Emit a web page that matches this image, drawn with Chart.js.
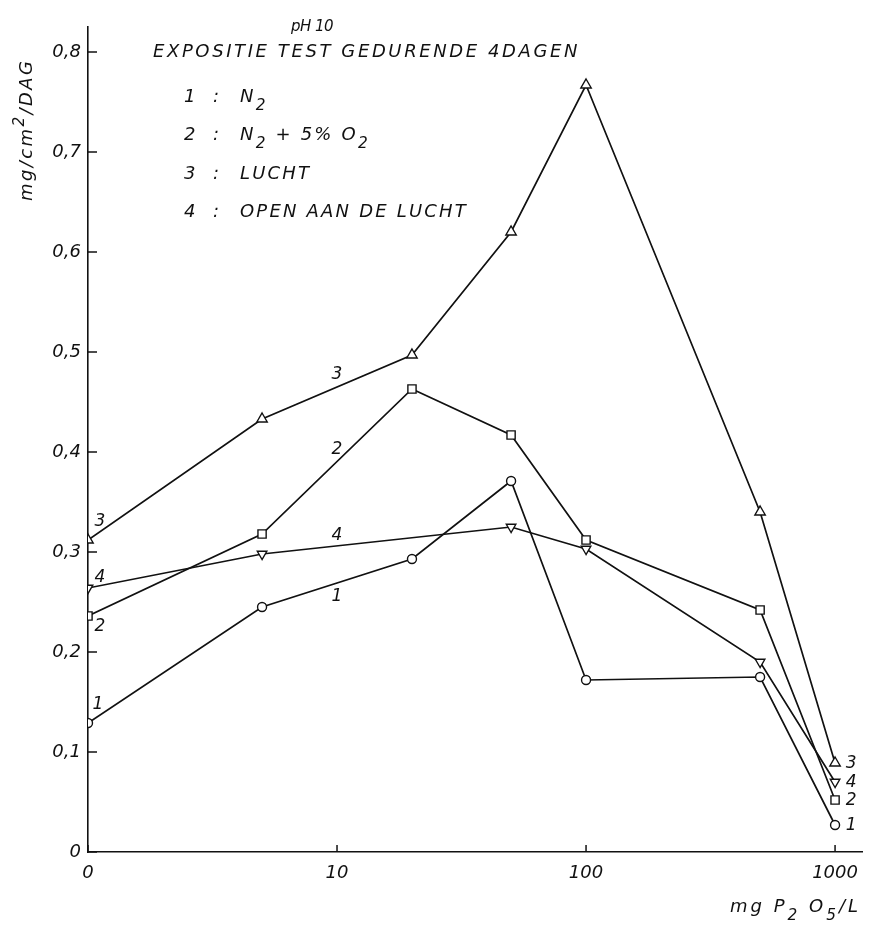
<!DOCTYPE html>
<html>
<head>
<meta charset="utf-8">
<script src="https://cdn.jsdelivr.net/npm/chart.js@4.4.1/dist/chart.umd.min.js"></script>
<style>
	html, body { margin: 0; padding: 0; background: #fff; }
</style>
</head>
<body>
<canvas id="myChart" width="870" height="927"></canvas>
<script>
// mg P2O5 / L  (0 is drawn where 1 would sit on the log axis)
const doses = [0, 5, 20, 50, 100, 500, 1000]
// mg/cm2/dag
const n2 = [0.129, 0.245, 0.293, 0.371, 0.172, 0.175, 0.027]
const n2o2 = [0.236, 0.318, 0.463, 0.417, 0.312, 0.242, 0.052]
const lucht = [0.312, 0.433, 0.497, 0.620, 0.767, 0.340, 0.089]
const openLucht = [0.264, 0.298, null, 0.325, 0.303, 0.190, 0.070]

const xTicks = [0, 10, 100, 1000]
const yTicks = [0, 0.1, 0.2, 0.3, 0.4, 0.5, 0.6, 0.7, 0.8]
const yLabels = ['0', '0,1', '0,2', '0,3', '0,4', '0,5', '0,6', '0,7', '0,8']

const ink = '#111'
const FONT = '"DejaVu Sans"'

function toPoints(values) {
	return doses.map((d, i) => ({ x: d === 0 ? 1 : d, y: values[i] }))
		.filter(p => p.y !== null)
}

function series(label, values, style, radius, rotation) {
	return {
		label: label,
		data: toPoints(values),
		borderColor: ink,
		borderWidth: 1.7,
		pointStyle: style,
		pointRadius: radius,
		pointRotation: rotation || 0,
		pointBackgroundColor: '#fff',
		pointBorderColor: ink,
		pointBorderWidth: 1.4,
		tension: 0,
		fill: false
	}
}

// text with sub/superscripts: parts = [[text, shift]], shift 1 = sub, -1 = sup
function drawRich(ctx, parts, x, y, size, spacing) {
	let cx = x
	ctx.letterSpacing = (spacing || 0) + 'px'
	parts.forEach(([t, s]) => {
		const fs = s ? size * 0.85 : size
		ctx.font = `italic ${fs}px ${FONT}`
		const dy = s === 1 ? size * 0.42 : (s === -1 ? -size * 0.42 : 0)
		ctx.fillText(t, cx, y + dy)
		cx += ctx.measureText(t).width
	})
	ctx.letterSpacing = '0px'
}

const decorations = {
	id: 'decorations',
	afterDraw(chart) {
		const ctx = chart.ctx
		const xs = chart.scales.x
		const ys = chart.scales.y
		ctx.save()
		ctx.fillStyle = ink
		ctx.strokeStyle = ink
		ctx.lineWidth = 1.5

		// inward tick marks
		yTicks.forEach(v => {
			const py = ys.getPixelForValue(v)
			ctx.beginPath()
			ctx.moveTo(xs.left, py)
			ctx.lineTo(xs.left + 9, py)
			ctx.stroke()
		})
		xTicks.forEach(v => {
			const px = xs.getPixelForValue(v === 0 ? 1 : v)
			ctx.beginPath()
			ctx.moveTo(px, ys.bottom)
			ctx.lineTo(px, ys.bottom - 7)
			ctx.stroke()
		})

		ctx.textBaseline = 'alphabetic'
		ctx.textAlign = 'left'

		// heading
		drawRich(ctx, [['pH 10', 0]], 291, 31, 15, -0.5)
		drawRich(ctx, [['EXPOSITIE TEST GEDURENDE 4DAGEN', 0]], 153, 57, 18, 2.6)

		// key
		const keyRows = [
			['1', [['N', 0], ['2', 1]]],
			['2', [['N', 0], ['2', 1], [' + 5% O', 0], ['2', 1]]],
			['3', [['LUCHT', 0]]],
			['4', [['OPEN AAN DE LUCHT', 0]]]
		]
		const keyY = [102, 140, 179, 217]
		keyRows.forEach((row, i) => {
			ctx.font = `italic 18px ${FONT}`
			ctx.fillText(row[0], 184, keyY[i])
			ctx.fillText(':', 213, keyY[i])
			drawRich(ctx, row[1], 240, keyY[i], 18, 2.2)
		})

		// axis titles
		ctx.save()
		ctx.translate(32, 201)
		ctx.rotate(-Math.PI / 2)
		drawRich(ctx, [['mg/cm', 0], ['2', -1], ['/DAG', 0]], 0, 0, 18, 2.4)
		ctx.restore()
		drawRich(ctx, [['mg P', 0], ['2', 1], [' O', 0], ['5', 1], ['/L', 0]], 730, 912, 18, 3)

		// curve numbers
		ctx.font = `italic 17px ${FONT}`
		ctx.textAlign = 'center'
		ctx.textBaseline = 'middle'
		const metas = chart.data.datasets.map((d, i) => chart.getDatasetMeta(i))
		const startOffsets = [[10, -18], [12, 11], [12, -18], [12, -10]]
		const midY = [0.255, 0.402, 0.477, 0.316]
		metas.forEach((meta, i) => {
			const first = meta.data[0]
			const last = meta.data[meta.data.length - 1]
			const name = chart.data.datasets[i].label
			ctx.fillText(name, first.x + startOffsets[i][0], first.y + startOffsets[i][1])
			ctx.fillText(name, last.x + 16, last.y + 1)
			ctx.fillText(name, xs.getPixelForValue(10), ys.getPixelForValue(midY[i]))
		})
		ctx.restore()
	}
}

const ctx = document.getElementById('myChart').getContext('2d')
const myChart = new Chart(ctx, {
	type: 'line',
	data: {
		datasets: [
			series('1', n2, 'circle', 4.5),
			series('2', n2o2, 'rect', 5.8),
			series('3', lucht, 'triangle', 6),
			series('4', openLucht, 'triangle', 5.5, 180)
		]
	},
	options: {
		responsive: false,
		animation: false,
		devicePixelRatio: 1,
		layout: { padding: { top: 27, right: 5, left: 0, bottom: 0 } },
		plugins: {
			legend: { display: false },
			tooltip: { enabled: false }
		},
		scales: {
			x: {
				type: 'logarithmic',
				min: 1,
				max: 1290,
				grid: { display: true, drawOnChartArea: false, drawTicks: false },
				border: { display: true, color: ink, width: 1.6 },
				afterBuildTicks: scale => {
					scale.ticks = xTicks.map(v => ({ value: v === 0 ? 1 : v }))
				},
				afterFit: scale => { scale.height = 75 },
				ticks: {
					autoSkip: false,
					maxRotation: 0,
					padding: 11,
					color: ink,
					font: { family: 'DejaVu Sans', size: 18, style: 'italic' },
					callback: v => v === 1 ? '0' : String(v)
				}
			},
			y: {
				type: 'linear',
				min: 0,
				max: 0.825,
				grid: { display: true, drawOnChartArea: false, drawTicks: false },
				border: { display: true, color: ink, width: 1.6 },
				afterBuildTicks: scale => {
					scale.ticks = yTicks.map(v => ({ value: v }))
				},
				afterFit: scale => { scale.width = 88 },
				ticks: {
					padding: 7,
					color: ink,
					font: { family: 'DejaVu Sans', size: 18, style: 'italic' },
					callback: v => yLabels[yTicks.findIndex(t => Math.abs(t - v) < 1e-6)]
				}
			}
		}
	},
	plugins: [decorations]
})
</script>
</body>
</html>
